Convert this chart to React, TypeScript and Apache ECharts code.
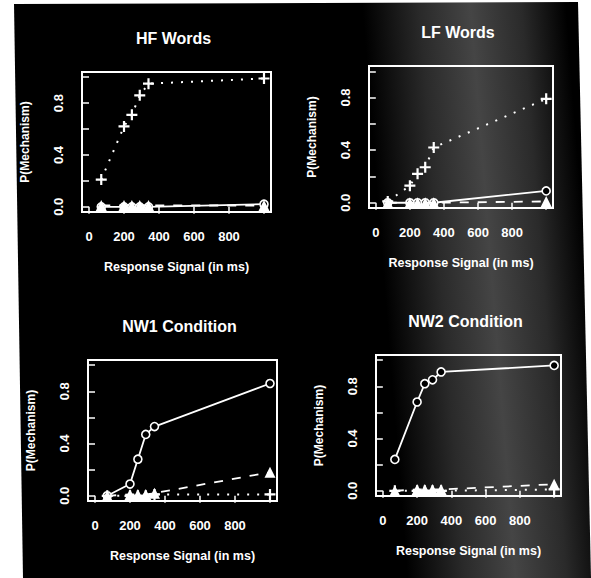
import React, { useEffect, useRef } from "react";
import * as echarts from "echarts";

// Response-signal lags (ms)
const lags = [70, 200, 245, 290, 340, 1000];

// Panel titles
const titles = ["HF Words", "LF Words", "NW1 Condition", "NW2 Condition"];

// Mechanism curves per panel: circles (solid), triangles (dashed), plus (dotted)
const hfCircle = [0.0, 0.0, 0.0, 0.0, 0.0, 0.02];
const hfTriangle = [0.01, 0.01, 0.01, 0.01, 0.01, 0.01];
const hfPlus = [0.21, 0.62, 0.71, 0.86, 0.95, 0.99];

const lfCircle = [0.0, 0.0, 0.0, 0.0, 0.0, 0.09];
const lfTriangle = [0.0, 0.0, 0.0, 0.0, 0.0, 0.01];
const lfPlus = [0.01, 0.13, 0.22, 0.27, 0.42, 0.79];

const nw1Circle = [0.0, 0.09, 0.28, 0.47, 0.53, 0.86];
const nw1Triangle = [0.0, 0.01, 0.01, 0.01, 0.02, 0.18];
const nw1Plus = [0.0, 0.0, 0.0, 0.0, 0.01, 0.01];

const nw2Circle = [0.24, 0.68, 0.82, 0.85, 0.91, 0.96];
const nw2Triangle = [0.0, 0.01, 0.01, 0.01, 0.01, 0.05];
const nw2Plus = [0.0, 0.0, 0.0, 0.0, 0.0, 0.01];

// Tick values
const xTicks = [0, 200, 400, 600, 800, 1000];
const xTickLabels = [0, 200, 400, 600, 800];
const yTicks = [0, 0.2, 0.4, 0.6, 0.8, 1.0];
const yTickLabels = [0, 0.4, 0.8];

const xName = "Response Signal (in ms)";
const yName = "P(Mechanism)";

const panelData = [
  [hfCircle, hfTriangle, hfPlus],
  [lfCircle, lfTriangle, lfPlus],
  [nw1Circle, nw1Triangle, nw1Plus],
  [nw2Circle, nw2Triangle, nw2Plus],
];

const grids = [
  { left: 82, top: 72, width: 189, height: 140 },
  { left: 369, top: 66, width: 184, height: 142 },
  { left: 88, top: 360, width: 189, height: 141 },
  { left: 376, top: 355, width: 185, height: 141 },
];

const FONT = "'Liberation Sans', Arial, Helvetica, sans-serif";
const WHITE = "#ffffff";
const PLUS = "path://M4,0H6V4H10V6H6V10H4V6H0V4H4Z";

export default function App() {
  const ref = useRef<HTMLDivElement>(null);

  useEffect(() => {
    if (!ref.current) return;
    const chart = echarts.init(ref.current, null, { renderer: "svg" });

    const xAxis: any[] = [];
    const yAxis: any[] = [];
    const series: any[] = [];
    const title: any[] = [];

    grids.forEach((g, i) => {
      title.push({
        text: titles[i],
        left: g.left + g.width / 2 - 3,
        top: g.top - 42,
        textAlign: "center",
        padding: 0,
        textStyle: { color: WHITE, fontFamily: FONT, fontWeight: "bold", fontSize: 16 },
      });
      xAxis.push({
        type: "value",
        gridIndex: i,
        min: -40,
        max: 1040,
        name: xName,
        nameLocation: "middle",
        nameGap: 48,
        nameTextStyle: { color: WHITE, fontFamily: FONT, fontWeight: "bold", fontSize: 12.5 },
        axisLine: { show: false },
        splitLine: { show: false },
        axisTick: {
          show: true,
          length: 7,
          customValues: xTicks,
          lineStyle: { color: WHITE, width: 1.5 },
        },
        axisLabel: {
          customValues: xTickLabels,
          color: WHITE,
          fontFamily: FONT,
          fontWeight: "bold",
          fontSize: 13,
          margin: 18,
        },
      });
      yAxis.push({
        type: "value",
        gridIndex: i,
        min: -0.04,
        max: 1.04,
        name: yName,
        nameLocation: "middle",
        nameGap: 51,
        nameTextStyle: { color: WHITE, fontFamily: FONT, fontWeight: "bold", fontSize: 12 },
        axisLine: { show: false },
        splitLine: { show: false },
        axisTick: {
          show: true,
          length: 7,
          customValues: yTicks,
          lineStyle: { color: WHITE, width: 1.5 },
        },
        axisLabel: {
          customValues: yTickLabels,
          rotate: 90,
          color: WHITE,
          fontFamily: FONT,
          fontWeight: "bold",
          fontSize: 13,
          margin: 17,
          formatter: (v: number) => v.toFixed(1),
        },
      });

      const [circ, tri, plus] = panelData[i];
      series.push({
        type: "line",
        xAxisIndex: i,
        yAxisIndex: i,
        data: lags.map((x, k) => [x, circ[k]]),
        symbol: "circle",
        symbolSize: 8,
        itemStyle: { color: "#000", borderColor: WHITE, borderWidth: 1.6 },
        lineStyle: { color: WHITE, width: 1.8, type: "solid" },
        z: 3,
      });
      series.push({
        type: "line",
        xAxisIndex: i,
        yAxisIndex: i,
        data: lags.map((x, k) => [x, tri[k]]),
        symbol: "triangle",
        symbolSize: 11,
        itemStyle: { color: WHITE },
        lineStyle: { color: WHITE, width: 1.8, type: [9, 9] },
        z: 4,
      });
      series.push({
        type: "line",
        xAxisIndex: i,
        yAxisIndex: i,
        data: lags.map((x, k) => [x, plus[k]]),
        symbol: PLUS,
        symbolSize: 11,
        itemStyle: { color: WHITE },
        lineStyle: { color: WHITE, width: 2, type: [2, 8] },
        z: 5,
      });
    });

    chart.setOption({
      animation: false,
      backgroundColor: "transparent",
      title,
      grid: grids.map((g) => ({
        ...g,
        show: true,
        borderColor: WHITE,
        borderWidth: 2,
        backgroundColor: "transparent",
        outerBoundsMode: "none",
        containLabel: false,
      })),
      xAxis,
      yAxis,
      series,
    });

    return () => chart.dispose();
  }, []);

  return (
    <div
      style={{
        position: "fixed",
        left: 0,
        top: 0,
        width: 591,
        height: 578,
        background: "#fff",
        overflow: "hidden",
      }}
    >
      <div
        style={{
          position: "absolute",
          left: 0,
          top: 0,
          width: 591,
          height: 578,
          clipPath: "polygon(14px 4px, 578px 2px, 591px 578px, 23px 578px)",
          background:
            "linear-gradient(85.5deg, #000 0%, #000 64%, #2a2a2a 73%, #454545 81%, #2a2a2a 89%, #000 96%)",
        }}
      />
      <div
        ref={ref}
        style={{ position: "absolute", left: 0, top: 0, width: 591, height: 578 }}
      />
    </div>
  );
}
